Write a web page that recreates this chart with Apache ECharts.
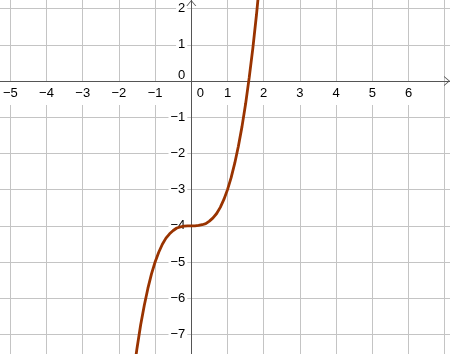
<!DOCTYPE html>
<html>
<head>
<meta charset="utf-8">
<script src="https://cdn.jsdelivr.net/npm/echarts@6/dist/echarts.min.js"></script>
<style>html,body{margin:0;padding:0;background:#fff}#c{width:450px;height:354px}</style>
</head>
<body>
<div id="c"></div>
<script>
// Curve points
var curveX = [-1.7, -1.6, -1.5, -1.4, -1.3, -1.2, -1.1, -1.0, -0.9, -0.8, -0.7, -0.6, -0.5, -0.4, -0.3, -0.2, -0.1, 0, 0.1, 0.2, 0.3, 0.4, 0.5, 0.6, 0.7, 0.8, 0.9, 1.0, 1.1, 1.2, 1.3, 1.4, 1.5, 1.6, 1.7, 1.8, 1.9];
var curveY = [-8.91, -8.10, -7.38, -6.74, -6.20, -5.73, -5.33, -5.00, -4.73, -4.51, -4.34, -4.22, -4.13, -4.06, -4.03, -4.01, -4.00, -4.00, -4.00, -3.99, -3.97, -3.94, -3.87, -3.78, -3.66, -3.49, -3.27, -3.00, -2.67, -2.27, -1.80, -1.26, -0.63, 0.10, 0.91, 1.83, 2.86];
var xTicks = [-5, -4, -3, -2, -1, 0, 1, 2, 3, 4, 5, 6];
var yTicks = [-7, -6, -5, -4, -3, -2, -1, 0, 1, 2];
var xRange = [-5.285, 7.146];
var yRange = [-7.541, 2.238];

var W = 450, H = 354;
var data = curveX.map(function (x, i) { return [x, curveY[i]]; });
function fmt(v) { return String(v).replace('-', '\u2212'); }
var chevron = 'path://M0,6 L5,0 L10,6 L9,6 L5,1.3 L1,6 Z';
var font = { fontFamily: 'Liberation Sans', fontSize: 13, color: '#000' };
function lbl(ticks) {
  return function (v) {
    if (ticks.indexOf(v) < 0) return '';
    return v === 0 ? '{z|0}' : '{n|' + fmt(v) + '}';
  };
}
// place the axes where the other axis is zero
var xAxisOffset = -(H * (-yRange[0]) / (yRange[1] - yRange[0]));
var yAxisOffset = -(W * (-xRange[0]) / (xRange[1] - xRange[0]));
var gridAxis = {
  type: 'value', minInterval: 1, maxInterval: 1, z: 0,
  axisLine: { show: false }, axisTick: { show: false }, axisLabel: { show: false },
  splitLine: { show: true, showMinLine: false, showMaxLine: false, lineStyle: { color: '#c4c4c4', width: 1 } }
};
var chart = echarts.init(document.getElementById('c'));
chart.setOption({
  animation: false,
  backgroundColor: '#fff',
  grid: [
    { left: 0, right: 0, top: 0, bottom: 0, outerBoundsMode: 'none' },
    { left: 0, right: 0, top: 0, bottom: 0, outerBoundsMode: 'none' }
  ],
  xAxis: [
    Object.assign({}, gridAxis, { gridIndex: 0, min: xRange[0], max: xRange[1] }),
    { type: 'value', gridIndex: 1, min: xRange[0], max: xRange[1], minInterval: 1, maxInterval: 1, z: 5,
      position: 'bottom', offset: xAxisOffset,
      axisLine: { show: true, onZero: false, lineStyle: { color: '#555', width: 1 },
        symbol: ['none', chevron], symbolSize: [10, 6], symbolOffset: [0, -3] },
      axisTick: { show: false }, splitLine: { show: false },
      axisLabel: { show: true, margin: 1, showMinLabel: false, showMaxLabel: false, formatter: lbl(xTicks),
        rich: { n: Object.assign({ backgroundColor: '#fff', padding: [5, 2, 5, 2] }, font),
                z: Object.assign({ padding: [5, 0, 5, 18] }, font) } }
    }
  ],
  yAxis: [
    Object.assign({}, gridAxis, { gridIndex: 0, min: yRange[0], max: yRange[1] }),
    { type: 'value', gridIndex: 1, min: yRange[0], max: yRange[1], minInterval: 1, maxInterval: 1, z: 5,
      position: 'left', offset: yAxisOffset,
      axisLine: { show: true, onZero: false, lineStyle: { color: '#555', width: 1 },
        symbol: ['none', chevron], symbolSize: [10, 6], symbolOffset: [0, -3] },
      axisTick: { show: false }, splitLine: { show: false },
      axisLabel: { show: true, margin: 4, showMinLabel: false, showMaxLabel: false, formatter: lbl(yTicks),
        rich: { n: Object.assign({ backgroundColor: '#fff', padding: [1, 2, 1, 2] }, font),
                z: Object.assign({ padding: [0, 2, 12, 0] }, font) } }
    }
  ],
  series: [{
    type: 'line', xAxisIndex: 0, yAxisIndex: 0, z: 20,
    data: data, smooth: false, showSymbol: false, clip: true,
    lineStyle: { color: '#993300', width: 2.8 }
  }]
});
</script>
</body>
</html>
